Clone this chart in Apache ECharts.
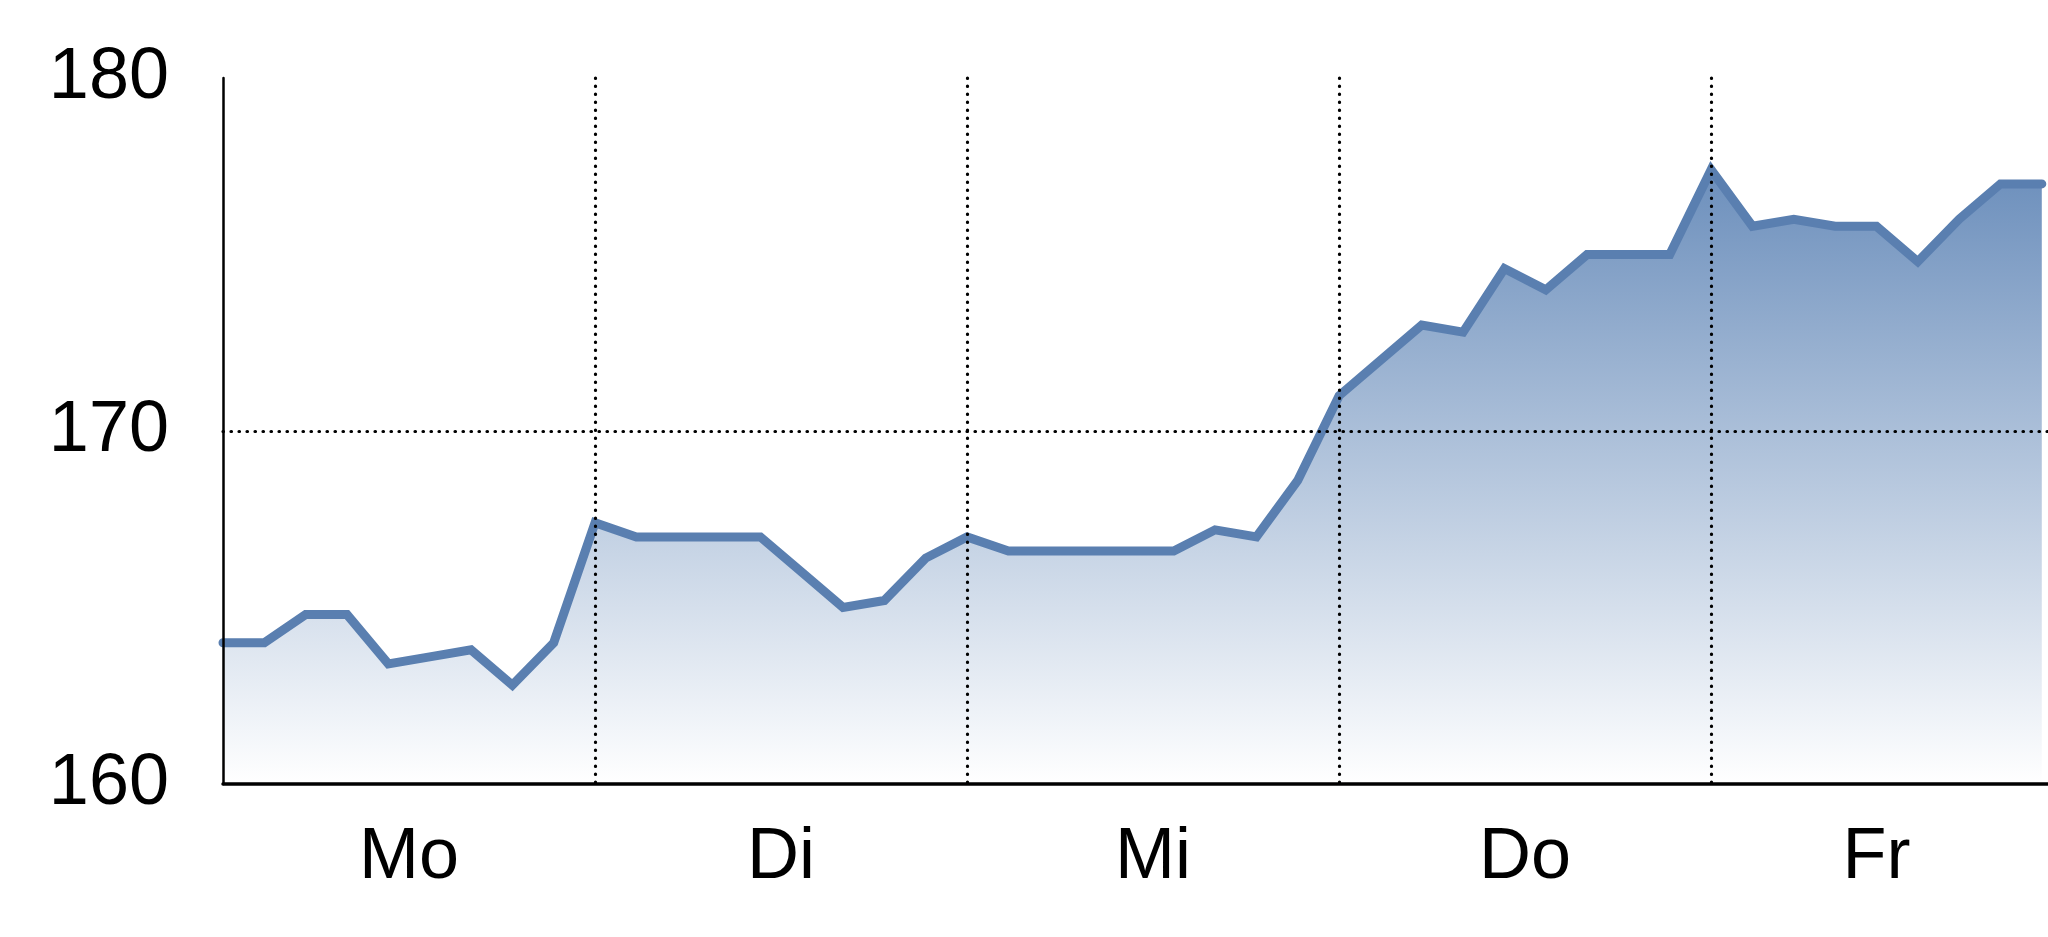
<!DOCTYPE html>
<html>
<head>
<meta charset="utf-8">
<script src="https://cdn.jsdelivr.net/npm/echarts@6/dist/echarts.min.js"></script>
<style>
  html, body { margin: 0; padding: 0; background: #ffffff; }
  #chart { width: 2048px; height: 937px; }
</style>
</head>
<body>
<div id="chart"></div>
<script>
// ---- data ----
const DAYS = ['Mo', 'Di', 'Mi', 'Do', 'Fr'];
const DAY_LABEL_POS = [4.5, 13.5, 22.5, 31.5, 40];   // x positions (in sample index units) of the day labels
const Y_TICKS = [160, 170, 180];
const VALUES_MO = [164.0, 164.0, 164.8, 164.8, 163.4, 163.6, 163.8, 162.8, 164.0];
const VALUES_DI = [167.4, 167.0, 167.0, 167.0, 167.0, 166.0, 165.0, 165.2, 166.4];
const VALUES_MI = [167.0, 166.6, 166.6, 166.6, 166.6, 166.6, 167.2, 167.0, 168.6];
const VALUES_DO = [171.0, 172.0, 173.0, 172.8, 174.6, 174.0, 175.0, 175.0, 175.0];
const VALUES_FR = [177.4, 175.8, 176.0, 175.8, 175.8, 174.8, 176.0, 177.0, 177.0];

const values = [].concat(VALUES_MO, VALUES_DI, VALUES_MI, VALUES_DO, VALUES_FR);
const seriesData = values.map((v, i) => [i, v]);

const FONT = "'Liberation Sans Narrow', 'Arial Narrow', 'Liberation Sans', Arial, sans-serif";
const dotted = { color: '#000000', width: 3.2, type: [0.5, 7.5], cap: 'round' };

const chart = echarts.init(document.getElementById('chart'), null, { renderer: 'canvas' });
chart.setOption({
  animation: false,
  backgroundColor: '#ffffff',
  grid: { left: 223, right: 0, top: 78, bottom: 153, containLabel: false },
  xAxis: {
    type: 'value',
    z: 5,
    min: 0,
    max: 44.15,
    interval: 9,
    axisLine: { show: true, onZero: false, lineStyle: { color: '#000000', width: 3.5 } },
    axisTick: { show: false },
    axisLabel: {
      show: true,
      customValues: DAY_LABEL_POS,
      formatter: (v) => { const k = DAY_LABEL_POS.indexOf(v); return k >= 0 ? DAYS[k] : ''; },
      margin: 38,
      fontSize: 72,
      fontFamily: FONT,
      color: '#000000'
    },
    splitLine: { show: true, showMinLine: false, showMaxLine: false, lineStyle: dotted }
  },
  yAxis: {
    type: 'value',
    z: 5,
    min: Y_TICKS[0],
    max: Y_TICKS[Y_TICKS.length - 1],
    interval: 10,
    axisLine: { show: true, lineStyle: { color: '#000000', width: 2.5 } },
    axisTick: { show: false },
    axisLabel: { margin: 54, fontSize: 72, fontFamily: FONT, color: '#000000' },
    splitLine: { show: true, showMinLine: false, showMaxLine: false, lineStyle: dotted }
  },
  series: [{
    type: 'line',
    data: seriesData,
    symbol: 'none',
    z: 1,
    lineStyle: { color: '#5a7fb0', width: 9, cap: 'round', join: 'miter' },
    areaStyle: {
      origin: 'start',
      opacity: 1,
      color: new echarts.graphic.LinearGradient(0, 0, 0, 1, [
        { offset: 0, color: '#6c8fbc' },
        { offset: 1, color: '#ffffff' }
      ])
    }
  }]
});
</script>
</body>
</html>
